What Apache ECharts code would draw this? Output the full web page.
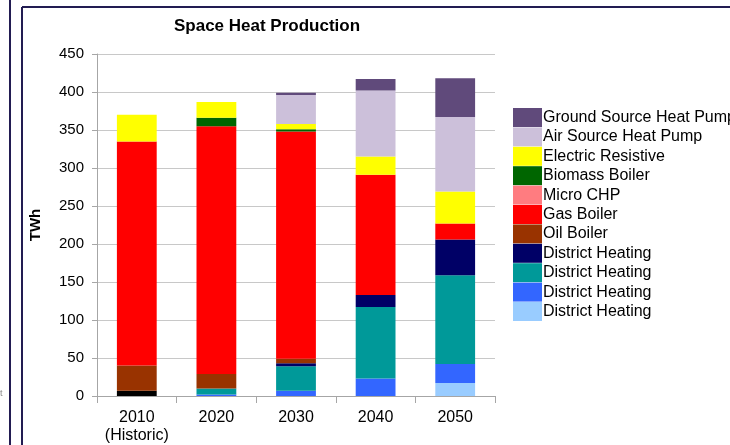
<!DOCTYPE html>
<html>
<head>
<meta charset="utf-8">
<script src="https://cdn.jsdelivr.net/npm/echarts@6/dist/echarts.min.js"></script>
<style>html,body{margin:0;padding:0;background:#fff;}#c{width:730px;height:445px;}</style>
</head>
<body>
<div id="c"></div>
<script>
const categories = ['2010\n(Historic)', '2020', '2030', '2040', '2050'];
const yTicks = [0, 50, 100, 150, 200, 250, 300, 350, 400, 450];

const other        = [7, 0, 0, 0, 0];
const dhLightBlue  = [0, 0, 0, 0, 17];
const dhBlue       = [0, 2, 7, 23, 25];
const dhTeal       = [0, 8, 32, 94, 117];
const dhNavy       = [0, 0, 4, 16, 47];
const oilBoiler    = [33, 19, 6, 0, 0];
const gasBoiler    = [295, 326, 299, 158, 21];
const microCHP     = [0, 0, 0, 0, 0];
const biomass      = [0, 11, 3, 0, 0];
const electric     = [35, 21, 7, 24, 42];
const ashp         = [0, 0, 38, 87, 98];
const gshp         = [0, 0, 3, 15, 51];

// bottom to top
const seriesDefs = [
  {name: 'Other', data: other, color: '#000000', legend: false},
  {name: 'District Heating\u200b\u200b\u200b', data: dhLightBlue, color: '#99ccff', legend: true},
  {name: 'District Heating\u200b\u200b', data: dhBlue, color: '#3366ff', legend: true},
  {name: 'District Heating\u200b', data: dhTeal, color: '#009999', legend: true},
  {name: 'District Heating', data: dhNavy, color: '#000066', legend: true},
  {name: 'Oil Boiler', data: oilBoiler, color: '#993300', legend: true},
  {name: 'Gas Boiler', data: gasBoiler, color: '#ff0000', legend: true},
  {name: 'Micro CHP', data: microCHP, color: '#ff7c80', legend: true},
  {name: 'Biomass Boiler', data: biomass, color: '#006600', legend: true},
  {name: 'Electric Resistive', data: electric, color: '#ffff00', legend: true},
  {name: 'Air Source Heat Pump', data: ashp, color: '#ccc0da', legend: true},
  {name: 'Ground Source Heat Pump', data: gshp, color: '#604a7b', legend: true}
];

const chart = echarts.init(document.getElementById('c'), null, {renderer: 'canvas'});
const frameColor = '#221c52';
chart.setOption({
  backgroundColor: '#ffffff',
  animation: false,
  title: {
    text: 'Space Heat Production',
    left: 262, top: 13, textAlign: 'center',
    textStyle: {fontFamily: 'Liberation Sans, Arial', fontSize: 17, fontWeight: 'bold', color: '#000'}
  },
  grid: {left: 97, right: 235, top: 54, bottom: 44, containLabel: false},
  legend: {
    orient: 'vertical', left: 508, top: 103,
    itemWidth: 29, itemHeight: 19, itemGap: 0.4,
    icon: 'rect',
    data: seriesDefs.filter(s => s.legend).map(s => s.name).reverse(),
    formatter: n => n.replace(/\u200b/g, ''),
    textStyle: {fontFamily: 'Liberation Sans, Arial', fontSize: 16, color: '#000', padding: [0, 0, 0, -4]},
    selectedMode: false
  },
  xAxis: {
    type: 'category', data: categories,
    axisLine: {show: true, lineStyle: {color: '#a6a6a6', width: 1}},
    axisTick: {show: true, length: 7, lineStyle: {color: '#a6a6a6'}},
    axisLabel: {interval: 0, fontFamily: 'Liberation Sans, Arial', fontSize: 16, color: '#000', margin: 13, lineHeight: 18}
  },
  yAxis: {
    type: 'value', min: yTicks[0], max: yTicks[yTicks.length - 1], interval: 50,
    name: 'TWh', nameLocation: 'middle', nameGap: 54, nameRotate: 90,
    nameTextStyle: {fontFamily: 'Liberation Sans, Arial', fontSize: 15, fontWeight: 'bold', color: '#000'},
    axisLine: {show: true, lineStyle: {color: '#a6a6a6'}},
    axisTick: {show: true, length: 5, lineStyle: {color: '#a6a6a6'}},
    splitLine: {show: true, lineStyle: {color: '#c8c8c8', width: 1}},
    axisLabel: {fontFamily: 'Liberation Sans, Arial', fontSize: 15, color: '#000', margin: 13}
  },
  series: seriesDefs.map(s => ({
    name: s.name, type: 'bar', stack: 'total', data: s.data,
    barWidth: '50%',
    itemStyle: {color: s.color},
    emphasis: {disabled: true}
  })),
  graphic: [
    {type: 'line', shape: {x1: 10, y1: 0, x2: 10, y2: 445}, style: {stroke: frameColor, lineWidth: 2}},
    {type: 'line', shape: {x1: 22, y1: 7, x2: 730, y2: 7}, style: {stroke: frameColor, lineWidth: 2}},
    {type: 'line', shape: {x1: 22, y1: 7, x2: 22, y2: 445}, style: {stroke: frameColor, lineWidth: 2}},
    {type: 'text', left: 0, top: 389, style: {text: 't', font: '9px Liberation Sans', fill: '#888'}}
  ]
});
</script>
</body>
</html>
